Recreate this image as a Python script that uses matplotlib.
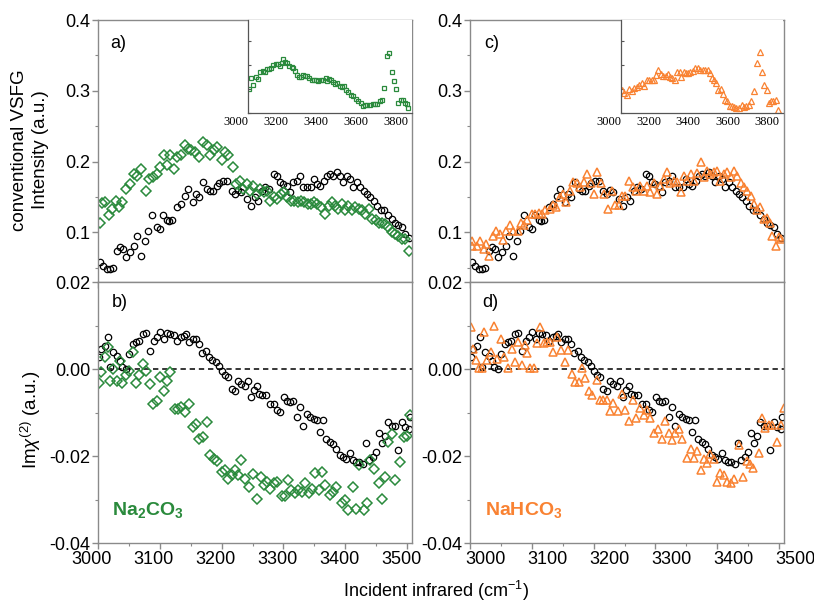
import matplotlib
matplotlib.use('Agg')
import matplotlib.pyplot as plt
from matplotlib.ticker import MultipleLocator, FormatStrFormatter, NullFormatter
from matplotlib.transforms import ScaledTranslation

plt.rcParams['font.family'] = ['Liberation Sans', 'DejaVu Sans']
plt.rcParams['mathtext.fontset'] = 'custom'
plt.rcParams['mathtext.rm'] = 'Liberation Sans'
plt.rcParams['mathtext.it'] = 'Liberation Sans:italic'
plt.rcParams['mathtext.bf'] = 'Liberation Sans:bold'
plt.rcParams['axes.unicode_minus'] = False

# ---------------- data ----------------
# conventional VSFG intensity, neat water (black circles), panels a) and c)
water_top_x = [3003,3008,3014,3019,3024,3030,3035,3041,3046,3051,
               3058,3063,3070,3076,3081,3088,3095,3100,3105,3111,
               3115,3120,3128,3134,3141,3146,3153,3158,3164,3170,
               3176,3181,3186,3192,3196,3203,3208,3216,3222,3227,
               3232,3241,3247,3254,3259,3265,3270,3276,3284,3289,
               3295,3300,3305,3311,3316,3322,3327,3332,3338,3344,
               3349,3354,3359,3365,3370,3376,3381,3386,3392,3397,
               3403,3408,3413,3419,3424,3430,3435,3440,3446,3451,
               3458,3463,3470,3476,3481,3486,3492,3497,3503]
water_top_y = [0.058,0.053,0.048,0.048,0.050,0.074,0.079,0.076,0.065,0.072,
               0.081,0.095,0.067,0.088,0.102,0.124,0.107,0.105,0.124,0.117,
               0.116,0.117,0.136,0.140,0.152,0.161,0.143,0.154,0.150,0.171,
               0.161,0.159,0.159,0.166,0.170,0.173,0.173,0.158,0.154,0.160,
               0.157,0.147,0.138,0.150,0.145,0.159,0.164,0.161,0.183,0.180,
               0.171,0.169,0.166,0.157,0.171,0.173,0.180,0.164,0.164,0.164,
               0.176,0.169,0.166,0.173,0.180,0.183,0.180,0.185,0.180,0.171,
               0.180,0.176,0.164,0.171,0.164,0.159,0.154,0.150,0.145,0.138,
               0.131,0.131,0.124,0.119,0.114,0.110,0.107,0.098,0.092]

# Na2CO3 (green diamonds), panel a)
na2co3_top_x = [3003,3007,3012,3018,3023,3029,3034,3039,3046,3051,
                3058,3063,3070,3077,3083,3089,3095,3100,3106,3112,
                3117,3123,3128,3134,3141,3146,3151,3157,3164,3170,
                3176,3182,3188,3193,3200,3205,3211,3218,3224,3230,
                3235,3241,3246,3251,3258,3262,3268,3274,3278,3284,
                3290,3296,3301,3306,3312,3317,3323,3328,3334,3339,
                3344,3350,3355,3361,3368,3373,3378,3384,3389,3395,
                3400,3405,3411,3416,3422,3427,3432,3438,3443,3449,
                3454,3459,3465,3470,3476,3481,3486,3492,3497,3503]
na2co3_top_y = [0.114,0.141,0.143,0.124,0.133,0.145,0.136,0.143,0.161,0.169,
                0.183,0.180,0.190,0.159,0.176,0.178,0.183,0.192,0.209,0.195,
                0.209,0.190,0.206,0.209,0.223,0.218,0.216,0.213,0.206,0.228,
                0.223,0.209,0.216,0.221,0.202,0.213,0.209,0.192,0.169,0.173,
                0.161,0.169,0.159,0.166,0.154,0.161,0.157,0.159,0.145,0.150,
                0.147,0.154,0.157,0.150,0.145,0.145,0.143,0.145,0.143,0.140,
                0.140,0.143,0.140,0.136,0.126,0.138,0.143,0.138,0.133,0.140,
                0.131,0.138,0.131,0.136,0.133,0.131,0.126,0.133,0.119,0.117,
                0.114,0.113,0.112,0.107,0.100,0.098,0.095,0.091,0.091,0.074]

# NaHCO3 (orange triangles), panel c)
nahco3_top_x = [3003,3004,3011,3016,3022,3026,3031,3037,3042,3049,
                3053,3059,3065,3069,3077,3082,3088,3093,3100,3105,
                3111,3116,3122,3129,3134,3139,3146,3150,3156,3161,
                3166,3173,3178,3184,3189,3195,3200,3205,3212,3217,
                3223,3230,3235,3241,3246,3251,3258,3264,3269,3275,
                3281,3286,3292,3297,3303,3308,3314,3319,3324,3330,
                3335,3341,3346,3351,3357,3362,3368,3373,3378,3384,
                3389,3395,3400,3405,3411,3416,3422,3427,3432,3438,
                3443,3449,3454,3459,3465,3470,3476,3481,3486,3489,
                3495,3500,3503]
nahco3_top_y = [0.088,0.081,0.081,0.088,0.076,0.084,0.067,0.095,0.102,0.098,
                0.089,0.102,0.111,0.102,0.102,0.113,0.111,0.117,0.126,0.126,
                0.128,0.126,0.131,0.133,0.139,0.136,0.150,0.155,0.143,0.158,
                0.171,0.170,0.164,0.171,0.183,0.170,0.155,0.185,0.170,0.154,
                0.133,0.159,0.139,0.139,0.152,0.152,0.173,0.164,0.158,0.166,
                0.159,0.166,0.157,0.170,0.154,0.165,0.176,0.185,0.170,0.173,
                0.171,0.157,0.180,0.173,0.183,0.173,0.184,0.199,0.178,0.187,
                0.183,0.185,0.187,0.173,0.183,0.185,0.178,0.187,0.180,0.170,
                0.164,0.159,0.152,0.140,0.131,0.136,0.119,0.121,0.114,0.095,
                0.081,0.093,0.091]

# Im chi(2), neat water (black circles), panels b) and d)
water_bot_x = [3002,3005,3011,3016,3020,3025,3030,3035,3039,3045,
               3050,3056,3061,3066,3072,3077,3084,3090,3096,3101,
               3106,3112,3117,3123,3128,3134,3139,3143,3148,3153,
               3158,3164,3169,3175,3180,3185,3191,3195,3200,3205,
               3211,3216,3222,3227,3232,3238,3242,3247,3252,3257,
               3261,3266,3272,3279,3285,3290,3295,3301,3305,3311,
               3316,3322,3327,3332,3338,3343,3349,3354,3359,3364,
               3369,3375,3380,3385,3391,3396,3402,3407,3412,3418,
               3423,3429,3434,3439,3445,3450,3454,3459,3465,3470,
               3476,3481,3486,3492,3497,3503,3505]
water_bot_y = [0.0027,0.0046,0.0053,0.0073,0.0004,0.0038,0.0031,0.0019,0.0004,0.0000,
               0.0034,0.0057,0.0061,0.0065,0.0080,0.0082,0.0042,0.0065,0.0074,0.0084,
               0.0069,0.0082,0.0080,0.0079,0.0065,0.0073,0.0076,0.0080,0.0061,0.0069,
               0.0069,0.0057,0.0036,0.0042,0.0027,0.0021,0.0015,0.0008,-0.0004,-0.0013,
               -0.0018,-0.0046,-0.0051,-0.0028,-0.0034,-0.0038,-0.0027,-0.0065,-0.0048,-0.0038,
               -0.0057,-0.0059,-0.0059,-0.0080,-0.0080,-0.0095,-0.0099,-0.0065,-0.0073,-0.0076,
               -0.0073,-0.0111,-0.0088,-0.0130,-0.0103,-0.0111,-0.0115,-0.0118,-0.0145,-0.0118,
               -0.0160,-0.0168,-0.0172,-0.0183,-0.0198,-0.0202,-0.0206,-0.0193,-0.0210,-0.0214,
               -0.0214,-0.0218,-0.0170,-0.0210,-0.0202,-0.0191,-0.0147,-0.0170,-0.0153,-0.0122,
               -0.0130,-0.0130,-0.0187,-0.0122,-0.0134,-0.0137,-0.0111]

# Na2CO3 Im chi(2), panel b)
na2co3_bot_x = [3002,3005,3011,3016,3020,3025,3030,3035,3039,3045,
                3050,3056,3061,3066,3072,3077,3084,3089,3096,3101,
                3106,3112,3116,3124,3130,3135,3141,3148,3153,3158,
                3164,3170,3177,3182,3188,3193,3200,3205,3211,3216,
                3222,3227,3232,3238,3245,3251,3258,3263,3269,3274,
                3279,3285,3290,3297,3303,3308,3313,3319,3324,3330,
                3335,3341,3346,3351,3357,3362,3368,3375,3380,3385,
                3395,3400,3405,3412,3418,3423,3430,3435,3440,3446,
                3454,3459,3465,3470,3476,3481,3489,3495,3500,3505]
na2co3_bot_y = [-0.0031,-0.0008,0.0028,0.0050,-0.0027,0.0000,-0.0027,0.0019,-0.0031,-0.0013,
                -0.0004,0.0038,-0.0031,-0.0014,0.0011,-0.0004,-0.0034,-0.0080,-0.0073,-0.0019,
                -0.0050,-0.0027,-0.0008,-0.0092,-0.0092,-0.0088,-0.0099,-0.0080,-0.0134,-0.0126,
                -0.0160,-0.0157,-0.0122,-0.0198,-0.0206,-0.0212,-0.0237,-0.0231,-0.0252,-0.0244,
                -0.0233,-0.0244,-0.0210,-0.0252,-0.0271,-0.0242,-0.0298,-0.0248,-0.0267,-0.0260,
                -0.0275,-0.0263,-0.0260,-0.0292,-0.0292,-0.0256,-0.0279,-0.0286,-0.0279,-0.0282,
                -0.0263,-0.0286,-0.0275,-0.0240,-0.0279,-0.0237,-0.0267,-0.0290,-0.0282,-0.0271,
                -0.0309,-0.0302,-0.0324,-0.0271,-0.0321,-0.0221,-0.0324,-0.0309,-0.0210,-0.0229,
                -0.0263,-0.0298,-0.0248,-0.0168,-0.0149,-0.0256,-0.0214,-0.0157,-0.0153,-0.0105]

# NaHCO3 Im chi(2), panel d)
nahco3_bot_x = [3001,3005,3010,3014,3019,3023,3028,3034,3039,3043,
                3050,3055,3062,3068,3073,3078,3084,3089,3093,3097,
                3103,3108,3114,3119,3124,3130,3135,3141,3147,3154,
                3159,3165,3170,3176,3181,3186,3192,3197,3205,3211,
                3216,3222,3227,3232,3239,3246,3251,3258,3264,3269,
                3275,3281,3286,3292,3298,3304,3311,3316,3322,3327,
                3332,3338,3343,3351,3357,3362,3368,3373,3378,3384,
                3389,3395,3400,3405,3411,3416,3422,3427,3435,3442,
                3448,3453,3458,3468,3473,3478,3484,3489,3497,3503,
                3508]
nahco3_bot_y = [0.0097,0.0047,0.0021,0.0002,0.0002,0.0084,0.0021,0.0040,0.0100,0.0024,
                0.0070,0.0028,0.0002,0.0046,0.0017,0.0062,0.0009,0.0055,0.0036,0.0002,
                0.0002,0.0059,0.0097,0.0059,0.0062,0.0062,0.0040,0.0074,0.0043,0.0017,
                0.0043,-0.0012,-0.0029,-0.0029,0.0002,-0.0021,-0.0050,-0.0059,-0.0025,-0.0071,
                -0.0071,-0.0071,-0.0097,-0.0078,-0.0097,-0.0058,-0.0094,-0.0119,-0.0071,-0.0113,
                -0.0090,-0.0105,-0.0094,-0.0113,-0.0147,-0.0139,-0.0162,-0.0120,-0.0147,-0.0164,
                -0.0147,-0.0139,-0.0162,-0.0204,-0.0185,-0.0204,-0.0189,-0.0233,-0.0208,-0.0215,
                -0.0196,-0.0208,-0.0259,-0.0238,-0.0243,-0.0259,-0.0261,-0.0253,-0.0175,-0.0248,
                -0.0211,-0.0219,-0.0227,-0.0192,-0.0113,-0.0135,-0.0128,-0.0128,-0.0167,-0.0128,
                -0.0090]

# insets: conventional VSFG over the full range (arb. units)
inset_na2co3_x = [3005,3013,3027,3040,3050,3060,3073,3085,3097,3107,3117,
                  3127,3140,3152,3160,3168,3177,3185,3197,3207,3218,
                  3227,3235,3243,3255,3263,3273,3285,3297,3307,3318,
                  3330,3340,3352,3363,3377,3390,3397,3407,3417,3427,
                  3435,3447,3460,3470,3480,3490,3502,3513,3527,3540,
                  3552,3563,3573,3585,3597,3610,3623,3635,3647,3660,
                  3672,3682,3693,3707,3718,3730,3740,3752,3763,3773,
                  3785,3793,3802]
inset_na2co3_y = [0.72,1.04,0.85,1.08,1.02,1.23,1.27,1.25,1.34,1.33,1.35,
                  1.44,1.48,1.48,1.43,1.50,1.62,1.55,1.50,1.42,1.40,
                  1.35,1.28,1.15,1.08,1.07,1.15,1.12,1.10,1.05,0.98,
                  1.00,0.98,0.97,1.00,0.98,1.05,0.95,1.03,1.00,0.92,
                  0.88,0.90,0.82,0.78,0.80,0.70,0.63,0.55,0.50,0.42,
                  0.35,0.30,0.22,0.24,0.24,0.25,0.26,0.28,0.26,0.35,
                  0.40,0.76,1.72,1.82,1.25,0.95,0.72,0.30,0.40,0.40,
                  0.30,0.27,0.15]
inset_nahco3_x = [3005,3017,3030,3043,3055,3067,3080,3093,3105,3117,
                  3130,3143,3155,3167,3177,3188,3200,3213,3227,3238,
                  3247,3260,3272,3283,3297,3305,3317,3327,3338,3350,
                  3363,3377,3388,3400,3413,3427,3438,3450,3460,3472,
                  3483,3493,3505,3517,3527,3538,3550,3560,3572,3583,
                  3597,3610,3622,3633,3647,3658,3672,3688,3702,3713,
                  3725,3737,3747,3758,3770,3783,3797]
inset_nahco3_y = [0.68,0.60,0.55,0.72,0.65,0.75,0.78,0.85,0.90,0.82,
                  0.98,0.98,1.00,1.00,1.15,1.30,1.18,1.12,1.10,1.18,
                  1.08,1.05,1.00,1.25,1.25,1.08,1.25,1.22,1.20,1.25,
                  1.28,1.35,1.35,1.30,1.30,1.30,1.30,1.20,1.05,1.00,
                  0.90,0.70,0.72,0.58,0.40,0.35,0.22,0.22,0.18,0.15,
                  0.15,0.25,0.18,0.20,0.25,0.35,0.65,1.50,1.85,1.25,
                  0.85,0.68,0.30,0.35,0.35,0.40,0.10]

main_xticks = [3000, 3100, 3200, 3300, 3400, 3500]
top_yticks = [0.1, 0.2, 0.3, 0.4]
bot_yticks = [-0.04, -0.02, 0.00, 0.02]
inset_xticks = [3000, 3200, 3400, 3600, 3800]

GREEN = '#2a8a3c'
ORANGE = '#f98232'
SPINE = '#8a8a8a'

# ---------------- figure ----------------
fig = plt.figure(figsize=(8.14, 6.07), dpi=100)

W = 0.3857
lefts = [0.1204, 0.5774]
top_b, top_h = 0.5354, 0.4316
bot_b, bot_h = 0.1054, 0.4300


def shift_xlabels(ax, dx_px):
    off = ScaledTranslation(dx_px / 100.0, 0, fig.dpi_scale_trans)
    for lab in ax.get_xticklabels():
        lab.set_transform(lab.get_transform() + off)


def style(ax):
    for s in ax.spines.values():
        s.set_color(SPINE)
        s.set_linewidth(1.0)
    ax.tick_params(which='both', direction='out', color=SPINE, labelsize=13,
                   top=False, right=False)
    ax.tick_params(which='major', length=4, width=1.0, pad=1.5)
    ax.tick_params(which='minor', length=2.5, width=0.8)


mk_circle = dict(ls='none', marker='o', mfc='none', mec='black', ms=4.6, mew=0.9)
mk_diam = dict(ls='none', marker='D', mfc='none', mec=GREEN, ms=5.0, mew=1.1)
mk_tri = dict(ls='none', marker='^', mfc='none', mec=ORANGE, ms=6.2, mew=1.1)

panels = []
for col in range(2):
    axt = fig.add_axes([lefts[col], top_b, W, top_h])
    axb = fig.add_axes([lefts[col], bot_b, W, bot_h])
    for ax in (axt, axb):
        style(ax)
        ax.set_xlim(3000, 3508)
        ax.set_xticks(main_xticks)
        ax.xaxis.set_minor_locator(MultipleLocator(50))
    axt.set_ylim(0.03, 0.4)
    axt.set_yticks(top_yticks)
    axt.yaxis.set_minor_locator(MultipleLocator(0.05))
    axt.yaxis.set_major_formatter(FormatStrFormatter('%.1f'))
    axt.xaxis.set_major_formatter(NullFormatter())
    axb.set_ylim(-0.04, 0.02)
    axb.set_yticks(bot_yticks)
    axb.yaxis.set_minor_locator(MultipleLocator(0.01))
    axb.yaxis.set_major_formatter(FormatStrFormatter('%.2f'))
    axb.axhline(0.0, color='black', lw=1.1, ls=(0, (3.5, 2.5)), zorder=1)
    panels.append((axt, axb))

(axa, axb_), (axc, axd) = panels

# a)
axa.plot(water_top_x, water_top_y, **mk_circle)
axa.plot(na2co3_top_x, na2co3_top_y, **mk_diam)
# b)
axb_.plot(water_bot_x, water_bot_y, **mk_circle)
axb_.plot(na2co3_bot_x, na2co3_bot_y, **mk_diam)
# c)
axc.plot(water_top_x, water_top_y, **mk_circle)
axc.plot(nahco3_top_x, nahco3_top_y, **mk_tri)
# d)
axd.plot(water_bot_x, water_bot_y, **mk_circle)
axd.plot(nahco3_bot_x, nahco3_bot_y, **mk_tri)

for ax, lab, (x, y) in [(axa, 'a)', (0.064, 0.912)), (axb_, 'b)', (0.07, 0.92)),
                        (axc, 'c)', (0.07, 0.912)), (axd, 'd)', (0.064, 0.92))]:
    ax.text(x, y, lab, transform=ax.transAxes, fontsize=13,
            ha='center', va='center')

axb_.text(0.16, 0.125, r'$\mathbf{Na_2CO_3}$', transform=axb_.transAxes,
          color=GREEN, fontsize=14, ha='center', va='center')
axd.text(0.17, 0.125, r'$\mathbf{NaHCO_3}$', transform=axd.transAxes,
         color=ORANGE, fontsize=14, ha='center', va='center')

shift_xlabels(axb_, -6)
shift_xlabels(axd, 16)

# insets
inset_specs = [
    (0.3047, 0.2015, inset_na2co3_x, inset_na2co3_y,
     dict(ls='none', marker='s', mfc='none', mec=GREEN, ms=3.4, mew=0.9)),
    (0.7629, 0.1990, inset_nahco3_x, inset_nahco3_y,
     dict(ls='none', marker='^', mfc='none', mec=ORANGE, ms=4.2, mew=0.9)),
]
for (l, w, xs, ys, mk) in inset_specs:
    ins = fig.add_axes([l, 0.8138, w, 0.1532])
    ins.set_facecolor('white')
    ins.plot(xs, ys, **mk)
    ins.set_xlim(3000, 3820)
    ins.set_ylim(0.0, 2.8)
    ins.set_xticks(inset_xticks)
    ins.set_xticklabels([str(t) for t in inset_xticks],
                        family=['Liberation Serif', 'DejaVu Serif'], fontsize=9)
    ins.yaxis.set_major_locator(MultipleLocator(0.72))
    ins.yaxis.set_major_formatter(NullFormatter())
    ins.spines['top'].set_visible(False)
    ins.spines['right'].set_visible(False)
    ins.spines['left'].set_color('#555555')
    ins.spines['bottom'].set_color('#555555')
    ins.spines['left'].set_linewidth(0.9)
    ins.spines['bottom'].set_linewidth(0.9)
    ins.tick_params(axis='x', length=0, pad=2)
    ins.tick_params(axis='y', direction='in', length=2.5, color='#555555')
    shift_xlabels(ins, -12)

# axis labels
fig.text(0.037, 1 - 150 / 607, 'conventional VSFG\nIntensity (a.u.)', rotation=90,
         ha='center', va='center', fontsize=13.5, linespacing=1.25, multialignment='center')
fig.text(0.038, 1 - 420 / 607, r'Im$\chi^{(2)}$ (a.u.)', rotation=90,
         ha='center', va='center', fontsize=13.5)
fig.text(0.536, 0.006, r'Incident infrared (cm$^{-1}$)',
         ha='center', va='bottom', fontsize=13)

fig.savefig('out.png', dpi=100)
